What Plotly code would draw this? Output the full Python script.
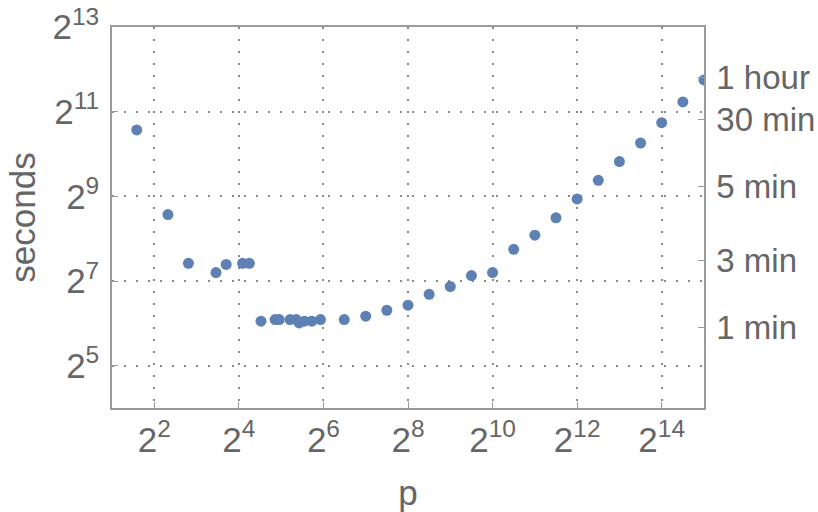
import math
import plotly.graph_objects as go

# data
p = [3, 5, 7, 11, 13, 17, 19, 23, 29, 31, 37, 41, 43, 47, 53, 61,
     90, 128, 181, 256, 362, 512, 724, 1024, 1448, 2048, 2896, 4096,
     5793, 8192, 11585, 16384, 23170, 32768]
seconds = [1520, 380, 171, 147, 168, 171, 171, 66.3, 68.1, 68.1, 68.1, 68.1, 64.4, 66.3, 66.3, 68.1,
           68.1, 72, 79.3, 86.2, 103, 117, 140, 147, 215, 271, 360, 491,
           666, 904, 1226, 1710, 2402, 3444]

x_tick_exp = [2, 4, 6, 8, 10, 12, 14]
y_tick_exp = [5, 7, 9, 11, 13]
right_tick_vals = [60, 180, 600, 1800, 3600]
right_tick_text = ["1 min", "3 min", "5 min", "30 min", "1 hour"]

xr = [math.log10(2 ** 1), math.log10(2 ** 15)]
yr = [math.log10(2 ** 4), math.log10(2 ** 13)]

gray = "#666666"
frame = "#9a9a9a"
gridc = "#8a8a8a"
font = "Liberation Sans, Arial, sans-serif"

fig = go.Figure()
fig.add_trace(go.Scatter(x=p, y=seconds, mode="markers",
                         marker=dict(size=11, color="#5E81B5"),
                         showlegend=False, cliponaxis=True))
fig.add_trace(go.Scatter(x=p, y=seconds, mode="markers", yaxis="y2",
                         marker=dict(size=10, color="rgba(0,0,0,0)"),
                         showlegend=False, hoverinfo="skip"))

fig.update_layout(
    width=818, height=512,
    margin=dict(l=112, r=114, t=27, b=104),
    paper_bgcolor="white", plot_bgcolor="white",
    font=dict(family=font, color=gray, size=34),
    xaxis=dict(type="log", range=xr, automargin=False,
               tickvals=[2 ** e for e in x_tick_exp],
               ticktext=[f"2<sup>{e}</sup>" for e in x_tick_exp],
               showgrid=True, gridcolor=gridc, griddash="2px,10px", gridwidth=1.5,
               showline=True, linecolor=frame, linewidth=1.5, mirror=True,
               ticks="inside", ticklen=6, tickcolor=frame,
               tickfont=dict(size=35, color=gray), ticklabelstandoff=0,
               zeroline=False,
               title=dict(text="p", font=dict(size=35, color=gray), standoff=24)),
    yaxis=dict(type="log", range=yr, automargin=False,
               tickvals=[2 ** e for e in y_tick_exp],
               ticktext=[f"2<sup>{e}</sup>" for e in y_tick_exp],
               showgrid=True, gridcolor=gridc, griddash="2px,10px", gridwidth=1.5,
               showline=True, linecolor=frame, linewidth=1.5,
               ticks="inside", ticklen=6, tickcolor=frame,
               tickfont=dict(size=35, color=gray), ticklabelstandoff=4,
               zeroline=False,
               title=dict(text="seconds", font=dict(size=35, color=gray), standoff=6)),
    yaxis2=dict(type="log", range=yr, overlaying="y", side="right", automargin=False,
                tickvals=right_tick_vals, ticktext=right_tick_text,
                showgrid=False,
                showline=True, linecolor=frame, linewidth=1.5,
                ticks="inside", ticklen=6, tickcolor=frame,
                tickfont=dict(size=33, color=gray), ticklabelstandoff=4,
                zeroline=False),
)

fig.write_html("out.html", config={"displayModeBar": False},
               post_script="document.body.style.margin='0';document.body.style.overflow='hidden';")
